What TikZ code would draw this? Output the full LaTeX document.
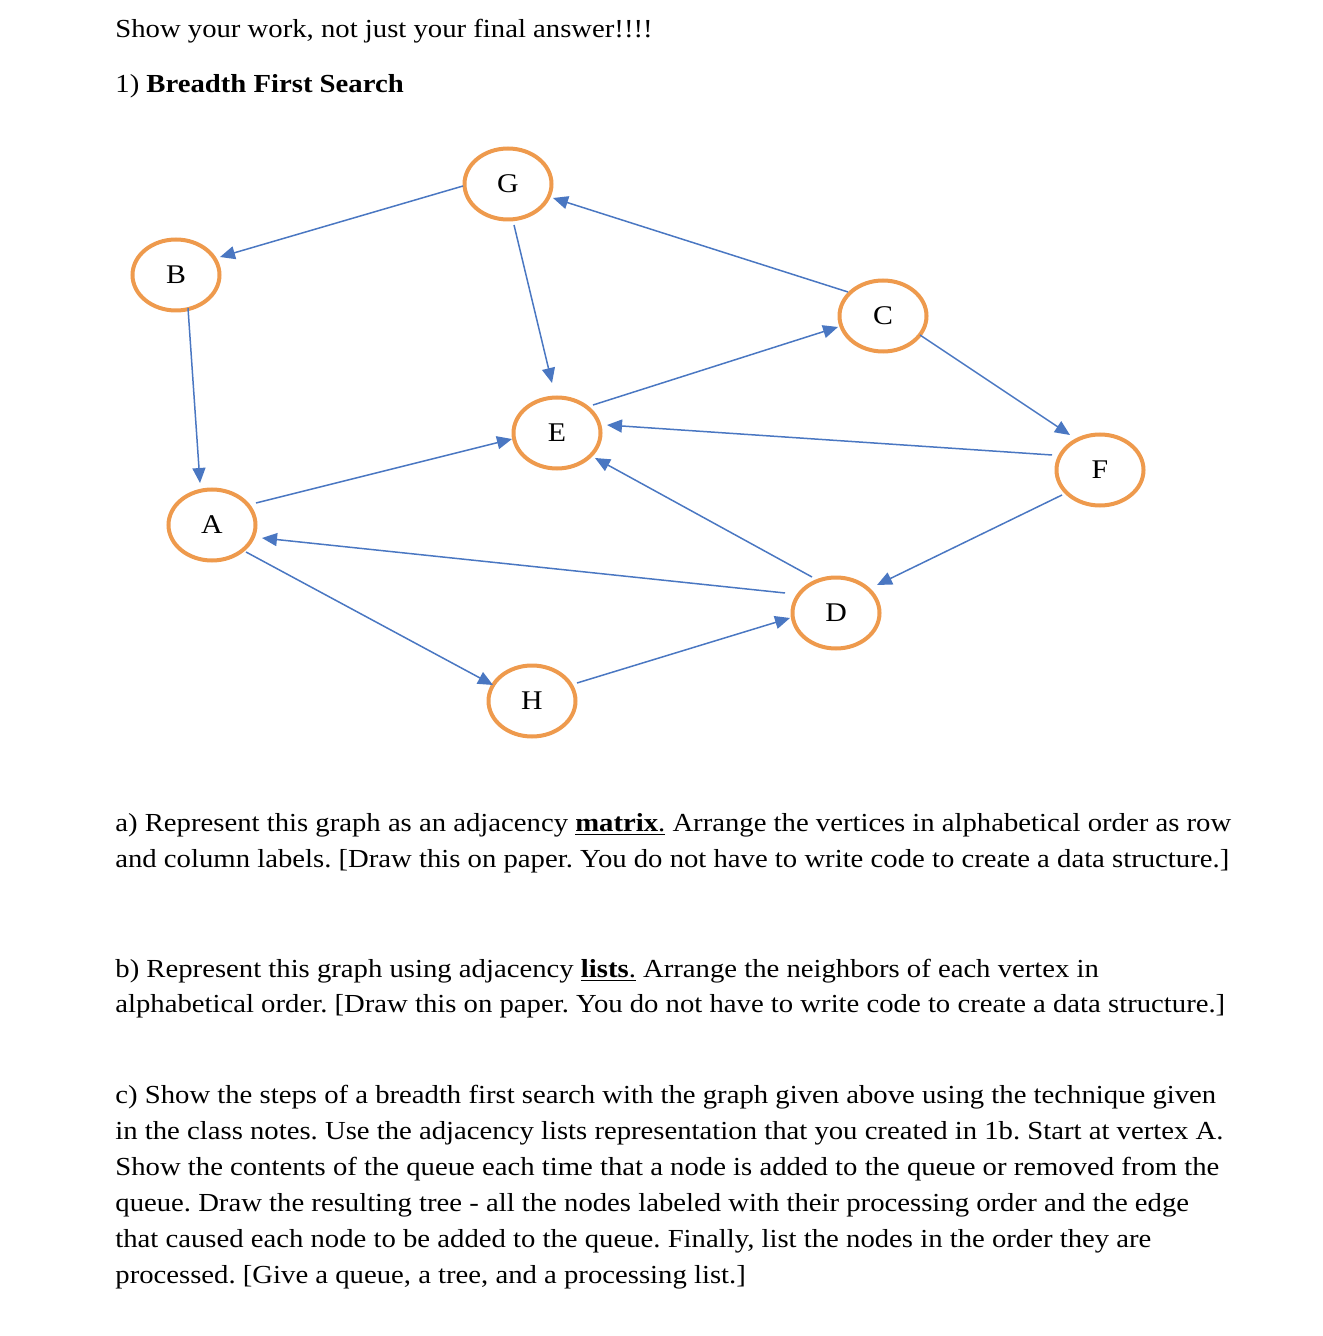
\documentclass[tikz,border=0pt]{standalone}
\usepackage{fontspec}
\setmainfont{Liberation Serif}[FakeStretch=1.104]
\usetikzlibrary{arrows.meta,calc,shapes.geometric}
\definecolor{nodeorange}{HTML}{EE9A4D}
\definecolor{edgeblue}{HTML}{4A77C2}
\begin{document}
\frenchspacing
\begin{tikzpicture}[x=0.5pt,y=-0.5pt,
  vertex/.style={ellipse,draw=nodeorange,line width=2pt,minimum width=43.5pt,minimum height=35.5pt,inner sep=0pt,font=\fontsize{13.5}{16}\selectfont},
  edge/.style={draw=edgeblue,line width=0.75pt,-{Triangle[length=7.5pt,width=6.5pt]}},
  txt/.style={anchor=base west,inner sep=0pt,font=\fontsize{13}{16}\selectfont}]
\useasboundingbox (0,0) rectangle (1322,1336);
% vertices
\node[vertex] (G) at (508,184) {G};
\node[vertex] (B) at (176,275) {B};
\node[vertex] (C) at (883,316) {C};
\node[vertex] (E) at (557,433) {E};
\node[vertex] (F) at (1100,470) {F};
\node[vertex] (A) at (212,525) {A};
\node[vertex] (D) at (836,613) {D};
\node[vertex] (H) at (532,701) {H};
% edges
\draw[edge] ($(G)+(-45,2)$) -- ($(B)+(44,-18)$);
\draw[edge] ($(C)+(-35,-24)$) -- ($(G)+(45,14)$);
\draw[edge] ($(G)+(6,41)$) -- ($(E)+(-5,-50)$);
\draw[edge] ($(B)+(12,33)$) -- ($(A)+(-12,-42)$);
\draw[edge] ($(E)+(36,-28)$) -- ($(C)+(-45,11)$);
\draw[edge] ($(C)+(37,19)$) -- ($(F)+(-30,-35)$);
\draw[edge] ($(F)+(-48,-15)$) -- ($(E)+(50,-8)$);
\draw[edge] ($(A)+(44,-22)$) -- ($(E)+(-45,6)$);
\draw[edge] ($(D)+(-24,-36)$) -- ($(E)+(38,25)$);
\draw[edge] ($(D)+(-51,-20)$) -- ($(A)+(50,13)$);
\draw[edge] ($(F)+(-38,25)$) -- ($(D)+(41,-28)$);
\draw[edge] ($(A)+(34,27)$) -- ($(H)+(-39,-16)$);
\draw[edge] ($(H)+(45,-18)$) -- ($(D)+(-46,5)$);
% texts
\node[txt] (t1) at (115,38) {Show your work, not just your final answer!!!!};
\node[txt] (t2) at (115,93) {1) \textbf{Breadth First Search}};
\node[txt] (a1) at (115,831) {a) Represent this graph as an adjacency \underline{\textbf{matrix}.} Arrange the vertices in alphabetical order as row};
\node[txt] (a2) at (115,867) {and column labels. [Draw this on paper. You do not have to write code to create a data structure.]};
\node[txt] (b1) at (115,977) {b) Represent this graph using adjacency \underline{\textbf{lists}.} Arrange the neighbors of each vertex in};
\node[txt] (b2) at (115,1012) {alphabetical order. [Draw this on paper. You do not have to write code to create a data structure.]};
\node[txt] (c1) at (115,1103) {c) Show the steps of a breadth first search with the graph given above using the technique given};
\node[txt] (c2) at (115,1139) {in the class notes. Use the adjacency lists representation that you created in 1b. Start at vertex A.};
\node[txt] (c3) at (115,1175) {Show the contents of the queue each time that a node is added to the queue or removed from the};
\node[txt] (c4) at (115,1211) {queue. Draw the resulting tree - all the nodes labeled with their processing order and the edge};
\node[txt] (c5) at (115,1247) {that caused each node to be added to the queue. Finally, list the nodes in the order they are};
\node[txt] (c6) at (115,1283) {processed. [Give a queue, a tree, and a processing list.]};
\end{tikzpicture}
\end{document}
